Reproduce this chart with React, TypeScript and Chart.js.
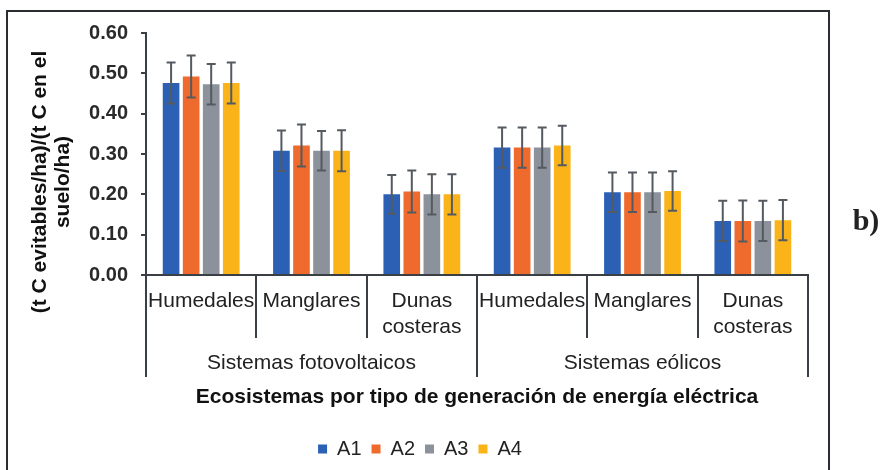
import React, { useEffect, useRef } from "react";
import { Chart, registerables } from "chart.js";

Chart.register(...registerables);

const categories = ["Humedales", "Manglares", "Dunas costeras", "Humedales", "Manglares", "Dunas costeras"];
const categoryLines = [["Humedales"], ["Manglares"], ["Dunas", "costeras"], ["Humedales"], ["Manglares"], ["Dunas", "costeras"]];
const groups = ["Sistemas fotovoltaicos", "Sistemas eólicos"];
const seriesNames = ["A1", "A2", "A3", "A4"];

const valuesA1 = [0.476, 0.308, 0.2, 0.316, 0.205, 0.134];
const valuesA2 = [0.492, 0.321, 0.207, 0.316, 0.205, 0.134];
const valuesA3 = [0.473, 0.308, 0.2, 0.316, 0.205, 0.134];
const valuesA4 = [0.476, 0.308, 0.2, 0.321, 0.208, 0.136];

const errA1 = [0.051, 0.05, 0.048, 0.05, 0.049, 0.05];
const errA2 = [0.052, 0.052, 0.052, 0.05, 0.049, 0.051];
const errA3 = [0.05, 0.049, 0.05, 0.05, 0.049, 0.05];
const errA4 = [0.051, 0.051, 0.05, 0.049, 0.049, 0.05];

const yTitleLines = ["(t C evitables/ha)/(t C en el", "suelo/ha)"];
const xTitle = "Ecosistemas por tipo de generación de energía eléctrica";
const panelLabel = "b)";

const colors = ["#2b60b5", "#ee6a2d", "#8b929b", "#fab419"];

const SANS = "'Liberation Sans', Arial, sans-serif";

const decorPlugin = {
  id: "decor",
  afterDatasetsDraw(chart: any) {
    const ctx = chart.ctx;
    const y = chart.scales.y;
    const errs = [errA1, errA2, errA3, errA4];
    ctx.save();
    ctx.strokeStyle = "#555a60";
    ctx.lineWidth = 2;
    chart.data.datasets.forEach((ds: any, di: number) => {
      const meta = chart.getDatasetMeta(di);
      meta.data.forEach((bar: any, i: number) => {
        const v = ds.data[i];
        const e = errs[di][i];
        const yt = y.getPixelForValue(v + e);
        const yb = y.getPixelForValue(v - e);
        const cx = bar.x;
        ctx.beginPath();
        ctx.moveTo(cx, yt);
        ctx.lineTo(cx, yb);
        ctx.moveTo(cx - 4.5, yt);
        ctx.lineTo(cx + 4.5, yt);
        ctx.moveTo(cx - 4.5, yb);
        ctx.lineTo(cx + 4.5, yb);
        ctx.stroke();
      });
    });
    ctx.restore();
  },
  afterDraw(chart: any) {
    const ctx = chart.ctx;
    const x = chart.scales.x;
    const area = chart.chartArea;
    const bottom = area.bottom;
    ctx.save();
    ctx.strokeStyle = "#3a3f45";
    ctx.lineWidth = 2;
    for (let i = 0; i <= categories.length; i++) {
      const px = Math.round(x.getPixelForValue(i - 0.5));
      const outer = i % 3 === 0;
      ctx.beginPath();
      ctx.moveTo(px, bottom);
      ctx.lineTo(px, bottom + (outer ? 102 : 63));
      ctx.stroke();
    }
    ctx.fillStyle = "#222";
    ctx.font = "21px " + SANS;
    ctx.textAlign = "center";
    ctx.textBaseline = "middle";
    categoryLines.forEach((lines, i) => {
      const cx = x.getPixelForValue(i);
      lines.forEach((t, li) => ctx.fillText(t, cx, bottom + 26 + li * 26));
    });
    groups.forEach((g, gi) => {
      const cx = (x.getPixelForValue(gi * 3 - 0.5) + x.getPixelForValue(gi * 3 + 2.5)) / 2;
      ctx.fillText(g, cx, bottom + 88);
    });
    ctx.font = "bold 21px " + SANS;
    ctx.fillStyle = "#111";
    ctx.fillText(xTitle, (area.left + area.right) / 2, bottom + 122);
    const cy = (area.top + area.bottom) / 2 + 28;
    ctx.save();
    ctx.translate(40, cy);
    ctx.rotate(-Math.PI / 2);
    ctx.fillText(yTitleLines[0], 0, 0);
    ctx.restore();
    ctx.save();
    ctx.translate(63, cy);
    ctx.rotate(-Math.PI / 2);
    ctx.fillText(yTitleLines[1], 0, 0);
    ctx.restore();
    ctx.strokeStyle = "#2a2d31";
    ctx.lineWidth = 2;
    ctx.beginPath();
    ctx.moveTo(7, 480);
    ctx.lineTo(7, 11);
    ctx.lineTo(829, 11);
    ctx.lineTo(829, 480);
    ctx.stroke();
    ctx.font = "bold 30px 'Liberation Serif', 'Times New Roman', serif";
    ctx.fillStyle = "#222";
    ctx.fillText(panelLabel, 866, 222);
    ctx.restore();
  },
};

export default function App() {
  const ref = useRef<HTMLCanvasElement>(null);
  useEffect(() => {
    if (!ref.current) return;
    Chart.defaults.font.family = SANS;
    const seriesValues = [valuesA1, valuesA2, valuesA3, valuesA4];
    const chart = new Chart(ref.current, {
      type: "bar",
      data: {
        labels: categories,
        datasets: seriesNames.map((n, i) => ({
          label: n,
          data: seriesValues[i],
          backgroundColor: colors[i],
          borderWidth: 0,
          barPercentage: 0.83,
          categoryPercentage: 0.727,
        })),
      },
      options: {
        responsive: false,
        animation: false,
        layout: { padding: { left: 32, right: 73, top: 33, bottom: 1 } },
        plugins: {
          tooltip: { enabled: false },
          legend: {
            position: "bottom",
            labels: {
              boxWidth: 9,
              boxHeight: 9,
              padding: 10,
              color: "#222",
              font: { size: 20, family: SANS },
            },
          },
        },
        scales: {
          x: {
            grid: { display: false },
            border: { display: true, color: "#3a3f45", width: 2 },
            ticks: { display: false },
            afterFit: (s: any) => {
              s.height = 154;
            },
          },
          y: {
            min: 0,
            max: 0.6,
            ticks: {
              stepSize: 0.1,
              padding: 13,
              color: "#2a2a2a",
              font: { size: 20, weight: "bold", family: SANS },
              callback: (v: any) => Number(v).toFixed(2),
            },
            grid: { drawOnChartArea: false, drawTicks: true, tickLength: 5, color: "#3a3f45", lineWidth: 2 },
            border: { display: true, color: "#3a3f45", width: 2 },
            afterFit: (s: any) => {
              s.width = 114;
            },
          },
        },
      },
      plugins: [decorPlugin],
    });
    return () => chart.destroy();
  }, []);
  return (
    <div style={{ position: "absolute", left: 0, top: 0, width: 881, height: 470, background: "#fff" }}>
      <canvas ref={ref} width={881} height={470} style={{ display: "block", width: 881, height: 470 }} />
    </div>
  );
}
